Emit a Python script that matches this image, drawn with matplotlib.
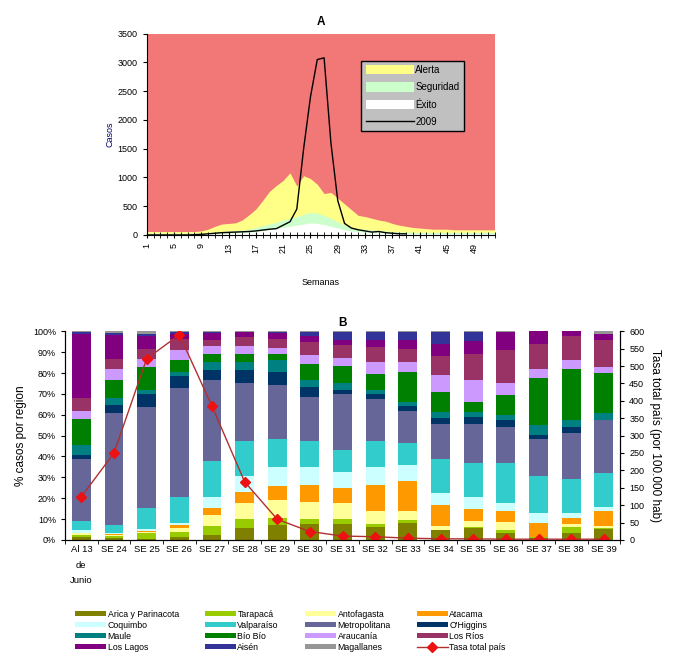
import numpy as np
import matplotlib.pyplot as plt

plt.rcParams["font.family"] = ["Liberation Sans", "DejaVu Sans"]

# ---- Panel A: endemic channel ----
weeks = list(range(1, 53))
alerta = [60, 60, 60, 60, 60, 60, 60, 60, 70, 100, 150, 190, 200, 210, 260, 350,
          450, 600, 760, 860, 950, 1080, 850, 1030, 980, 880, 720, 740, 640, 540,
          440, 340, 320, 290, 260, 240, 200, 170, 150, 130, 120, 110, 100, 100,
          100, 90, 90, 90, 90, 90, 90, 90]
seguridad = [30, 30, 30, 30, 30, 30, 30, 30, 30, 40, 50, 60, 70, 75, 85, 100,
             130, 160, 190, 220, 260, 290, 320, 360, 390, 380, 340, 290, 230, 170,
             130, 110, 100, 90, 80, 70, 60, 55, 50, 45, 45, 45, 45, 45, 45, 45,
             45, 45, 45, 45, 45, 45]
exito = [10, 10, 10, 10, 10, 10, 10, 10, 10, 15, 20, 25, 30, 35, 40, 50, 60, 75,
         90, 110, 130, 150, 170, 190, 210, 200, 180, 150, 120, 90, 70, 60, 50, 45,
         40, 35, 30, 25, 20, 20, 20, 20, 20, 20, 20, 20, 20, 20, 20, 20, 20, 20]
weeks_2009 = list(range(1, 40))
casos_2009 = [0, 0, 0, 0, 0, 0, 0, 5, 10, 20, 30, 40, 45, 50, 55, 60, 70, 85,
              100, 110, 170, 230, 450, 1500, 2400, 3050, 3080, 1600, 600, 200,
              120, 90, 70, 50, 60, 40, 30, 20, 20]

# ---- Panel B: % of cases per region ----
categorias = ["Al 13\nde\nJunio", "SE 24", "SE 25", "SE 26", "SE 27", "SE 28",
              "SE 29", "SE 30", "SE 31", "SE 32", "SE 33", "SE 34", "SE 35",
              "SE 36", "SE 37", "SE 38", "SE 39"]
regiones = ["Arica y Parinacota", "Tarapacá", "Antofagasta", "Atacama",
            "Coquimbo", "Valparaíso", "Metropolitana", "O'Higgins", "Maule",
            "Bío Bío", "Araucanía", "Los Ríos", "Los Lagos", "Aisén", "Magallanes"]
colores = ["#808000", "#99cc00", "#ffff99", "#ff9900", "#ccffff", "#33cccc",
           "#666699", "#003366", "#008080", "#008000", "#cc99ff", "#993366",
           "#800080", "#333399", "#969696"]

# one row per week, columns follow `regiones`
pct = [
    [1.3, 1.1, 0.8, 0.3, 1.0, 4.5, 29.8, 2.1, 4.5, 12.7, 3.7, 6.4, 30.6, 0.8, 0.4],
    [0.8, 1.1, 0.5, 0.2, 0.6, 4.0, 53.4, 4.0, 3.2, 8.8, 5.5, 4.8, 11.2, 1.1, 0.8],
    [0.5, 2.7, 0.8, 0.1, 1.0, 10.1, 48.3, 6.4, 1.9, 11.1, 4.0, 4.8, 5.9, 1.3, 1.1],
    [1.3, 2.4, 2.2, 1.1, 1.3, 12.4, 51.9, 5.9, 2.0, 5.6, 4.8, 5.6, 2.4, 0.6, 0.5],
    [2.4, 4.3, 5.3, 3.2, 5.5, 17.3, 38.6, 4.7, 4.0, 4.0, 3.5, 2.9, 3.5, 0.5, 0.3],
    [5.6, 4.3, 8.0, 5.2, 7.5, 16.9, 27.5, 6.3, 4.0, 4.0, 3.5, 4.5, 2.4, 0.2, 0.1],
    [7.2, 3.2, 8.7, 6.7, 9.3, 13.5, 25.6, 6.3, 5.6, 3.2, 2.9, 4.3, 2.7, 0.5, 0.3],
    [7.7, 2.2, 8.4, 8.0, 8.8, 12.4, 21.1, 4.8, 3.2, 7.9, 4.0, 6.4, 2.7, 2.1, 0.3],
    [7.7, 2.2, 8.0, 6.8, 8.0, 10.4, 26.8, 2.2, 2.9, 8.3, 4.1, 5.9, 2.4, 4.0, 0.3],
    [6.4, 1.3, 6.2, 12.4, 8.8, 12.4, 20.0, 2.4, 1.9, 7.7, 5.8, 7.2, 3.2, 4.0, 0.3],
    [8.3, 1.3, 4.4, 14.4, 7.5, 10.7, 15.3, 2.2, 2.1, 14.3, 4.8, 6.4, 4.3, 3.7, 0.3],
    [4.5, 0.3, 1.9, 10.0, 5.9, 16.0, 16.9, 2.7, 3.2, 9.6, 7.9, 9.1, 5.8, 5.9, 0.3],
    [5.6, 0.5, 3.0, 5.6, 6.0, 16.3, 18.5, 3.5, 2.4, 4.8, 10.4, 12.4, 6.4, 4.3, 0.3],
    [3.2, 1.6, 4.0, 5.1, 3.6, 19.2, 17.2, 3.5, 2.7, 9.6, 5.3, 15.9, 8.9, 0.1, 0.1],
    [0.8, 0.5, 0.3, 6.7, 4.5, 17.8, 18.0, 1.6, 4.8, 22.4, 4.7, 12.0, 5.9, 0.0, 0.0],
    [3.2, 3.2, 1.3, 2.7, 2.7, 15.9, 22.4, 2.5, 3.5, 24.3, 4.7, 11.2, 2.4, 0.0, 0.0],
    [5.1, 0.5, 1.1, 7.3, 1.9, 16.3, 25.5, 0.0, 2.9, 19.5, 2.9, 12.7, 3.2, 0.0, 1.1],
]
tasa = [124, 250, 521, 590, 385, 167, 59, 24, 11, 9, 5, 3, 3, 2, 2, 2, 2]

fig = plt.figure(figsize=(6.73, 6.6), dpi=100)

# ---------------- Panel A ----------------
axA = fig.add_axes([0.218, 0.644, 0.517, 0.305])
axA.set_facecolor("#f27878")
axA.fill_between(weeks, 0, alerta, color="#ffff88", lw=0, label="Alerta")
axA.fill_between(weeks, 0, seguridad, color="#ccffcc", lw=0, label="Seguridad")
axA.fill_between(weeks, 0, exito, color="white", lw=0, label="Éxito")
axA.plot(weeks_2009, casos_2009, color="black", lw=1.0, label="2009")
axA.set_xlim(1, 52)
axA.set_ylim(0, 3500)
axA.set_yticks(range(0, 3501, 500))
axA.set_xticks(range(1, 52, 4))
axA.set_xticks(weeks, minor=True)
axA.tick_params(axis="x", which="both", direction="inout", length=5, labelrotation=90, labelsize=6.5)
axA.tick_params(axis="y", direction="out", length=3, labelsize=6.5)
for s in ["top", "right"]:
    axA.spines[s].set_visible(False)
axA.set_title("A", fontsize=8.5, fontweight="bold", pad=6)
axA.set_ylabel("Casos", fontsize=6.5, color="#000066", labelpad=2)
axA.set_xlabel("Semanas", fontsize=6.5, labelpad=18)
legA = axA.legend(loc="upper right", bbox_to_anchor=(0.925, 0.89), fontsize=7,
                  frameon=True, fancybox=False, handlelength=5, handleheight=1.1,
                  labelspacing=0.75, borderpad=0.45, handletextpad=0.1)
legA.get_frame().set_facecolor("#c0c0c0")
legA.get_frame().set_edgecolor("black")
legA.get_frame().set_alpha(1)

# ---------------- Panel B ----------------
axB = fig.add_axes([0.0966, 0.182, 0.825, 0.316])
x = np.arange(len(categorias))
data = np.array(pct)
bottom = np.zeros(len(categorias))
handles = []
for j, reg in enumerate(regiones):
    b = axB.bar(x, data[:, j], 0.58, bottom=bottom, color=colores[j], lw=0, label=reg)
    handles.append(b)
    bottom += data[:, j]
axB.set_xlim(-0.5, len(categorias) - 0.5)
axB.set_ylim(0, 100)
axB.set_yticks(range(0, 101, 10))
axB.set_yticklabels([f"{v}%" for v in range(0, 101, 10)], fontsize=6.5)
axB.set_xticks(x)
axB.set_xticklabels(categorias, fontsize=6.8, va="top", linespacing=1.9)
axB.set_xticks(np.arange(-0.5, len(categorias)), minor=True)
axB.tick_params(axis="x", which="major", length=0, pad=4)
axB.tick_params(axis="x", which="minor", length=3)
axB.tick_params(axis="y", length=3)
axB.spines["top"].set_visible(False)
axB.set_ylabel("% casos por region", fontsize=8.5)
axB.set_title("B", fontsize=8.5, fontweight="bold", pad=4)

axR = axB.twinx()
line, = axR.plot(x, tasa, color="#b03030", lw=1.0, marker="D", markersize=5,
                 markerfacecolor="#ee1111", markeredgecolor="#ee1111",
                 label="Tasa total país")
axR.set_ylim(0, 600)
axR.set_yticks(range(0, 601, 50))
axR.tick_params(axis="y", labelsize=6.5, length=3)
axR.spines["top"].set_visible(False)
axR.set_ylabel("Tasa total país (por 100.000 hab)", fontsize=8.5, rotation=-90, labelpad=12)

# legend in 4 columns, rows read left to right
allh = handles + [line]
alll = regiones + ["Tasa total país"]
order = [i for c in range(4) for i in range(c, 16, 4)]
fig.legend([allh[i] for i in order], [alll[i] for i in order], loc="upper left",
           bbox_to_anchor=(0.1, 0.088), ncol=4, fontsize=6.3, frameon=False,
           handlelength=3.5, handleheight=0.6, labelspacing=0.22, columnspacing=3.0,
           handletextpad=0.2)

fig.savefig("out.png", dpi=100)
